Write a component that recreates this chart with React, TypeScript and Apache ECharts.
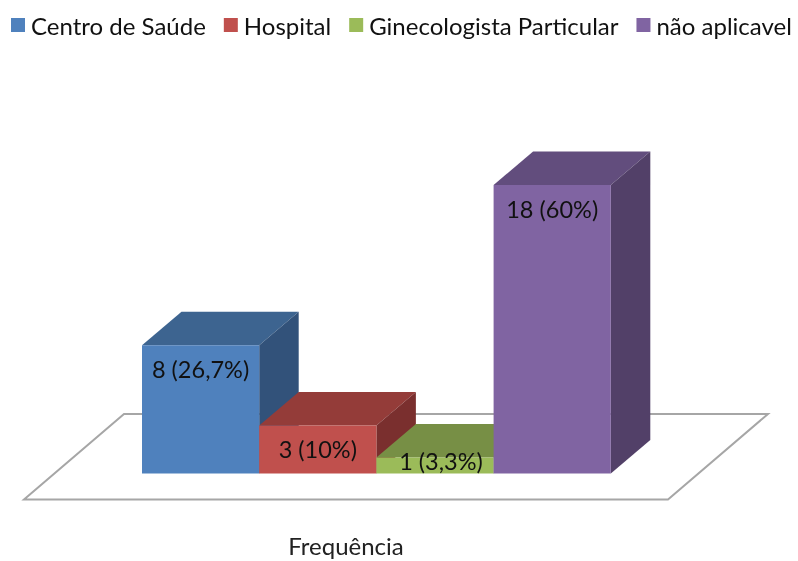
import React, { useEffect, useRef } from "react";
import * as echarts from "echarts";

const categories = ["Frequência"];
const seriesNames = ["Centro de Saúde", "Hospital", "Ginecologista Particular", "não aplicavel"];
const seriesValues = [8, 3, 1, 18];
const valueLabels = ["8 (26,7%)", "3 (10%)", "1 (3,3%)", "18 (60%)"];
const frontColors = ["#4f81bd", "#c0504d", "#9bbb59", "#8064a2"];
const topColors = ["#3d6490", "#943c39", "#778f45", "#624d7d"];
const sideColors = ["#32527a", "#7a2f2e", "#627539", "#524068"];
const labelShiftX = [0, 0, 6, 0];

const FONT = "Lato";
const BAR_W = 117.2;
const DEPTH_X = 39.5;
const DEPTH_Y = 33.5;
const FIRST_BAR_OFFSET = -204;

export default function App() {
  const ref = useRef<HTMLDivElement>(null);
  useEffect(() => {
    const chart = echarts.init(ref.current!, null, { renderer: "svg" });
    const makeSeries = (name: string, i: number) => ({
      type: "custom",
      name,
      coordinateSystem: "cartesian2d",
      itemStyle: { color: frontColors[i] },
      data: [[0, seriesValues[i]]],
      z: 3 + i,
      renderItem: (_: any, api: any) => {
        const top = api.coord([api.value(0), api.value(1)]);
        const base = api.coord([api.value(0), 0]);
        const x0 = top[0] + FIRST_BAR_OFFSET + i * BAR_W;
        const x1 = x0 + BAR_W;
        const y0 = top[1];
        const y1 = base[1];
        const labelY = Math.min(y0 + 24, y1 - 13);
        return {
          type: "group",
          children: [
            {
              type: "polygon",
              shape: { points: [[x0, y0], [x1, y0], [x1 + DEPTH_X, y0 - DEPTH_Y], [x0 + DEPTH_X, y0 - DEPTH_Y]] },
              style: { fill: topColors[i] },
            },
            {
              type: "polygon",
              shape: { points: [[x1, y0], [x1 + DEPTH_X, y0 - DEPTH_Y], [x1 + DEPTH_X, y1 - DEPTH_Y], [x1, y1]] },
              style: { fill: sideColors[i] },
            },
            { type: "rect", shape: { x: x0, y: y0, width: BAR_W, height: y1 - y0 }, style: { fill: frontColors[i] } },
            {
              type: "text",
              style: {
                x: x0 + BAR_W / 2 + labelShiftX[i],
                y: labelY,
                text: valueLabels[i],
                fill: "#111",
                font: `23.5px ${FONT}`,
                align: "center",
                verticalAlign: "middle",
              },
            },
          ],
        };
      },
    });
    chart.setOption({
      animation: false,
      backgroundColor: "#fff",
      legend: {
        left: 6,
        top: 8,
        itemWidth: 14,
        itemHeight: 14,
        itemGap: 18,
        icon: "rect",
        data: seriesNames,
        selectedMode: false,
        textStyle: { fontFamily: FONT, fontSize: 24, color: "#111", padding: [0, 0, 0, 1] },
      },
      grid: { left: 24, width: 644, top: 185, height: 288.5 },
      xAxis: {
        type: "category",
        data: categories,
        axisLine: { show: false },
        axisTick: { show: false },
        axisLabel: { margin: 60, fontFamily: FONT, fontSize: 24, color: "#222" },
      },
      yAxis: { type: "value", min: 0, max: 18, show: false },
      graphic: [
        {
          type: "polygon",
          z: 0,
          shape: { points: [[24, 499.5], [668, 499.5], [768, 414], [124, 414]] },
          style: { fill: "#fff", stroke: "#a6a6a6", lineWidth: 2 },
        },
      ],
      series: seriesNames.map(makeSeries),
    });
    return () => chart.dispose();
  }, []);
  return <div ref={ref} style={{ position: "fixed", left: 0, top: 0, width: 798, height: 561, filter: "blur(0.5px)" }} />;
}
